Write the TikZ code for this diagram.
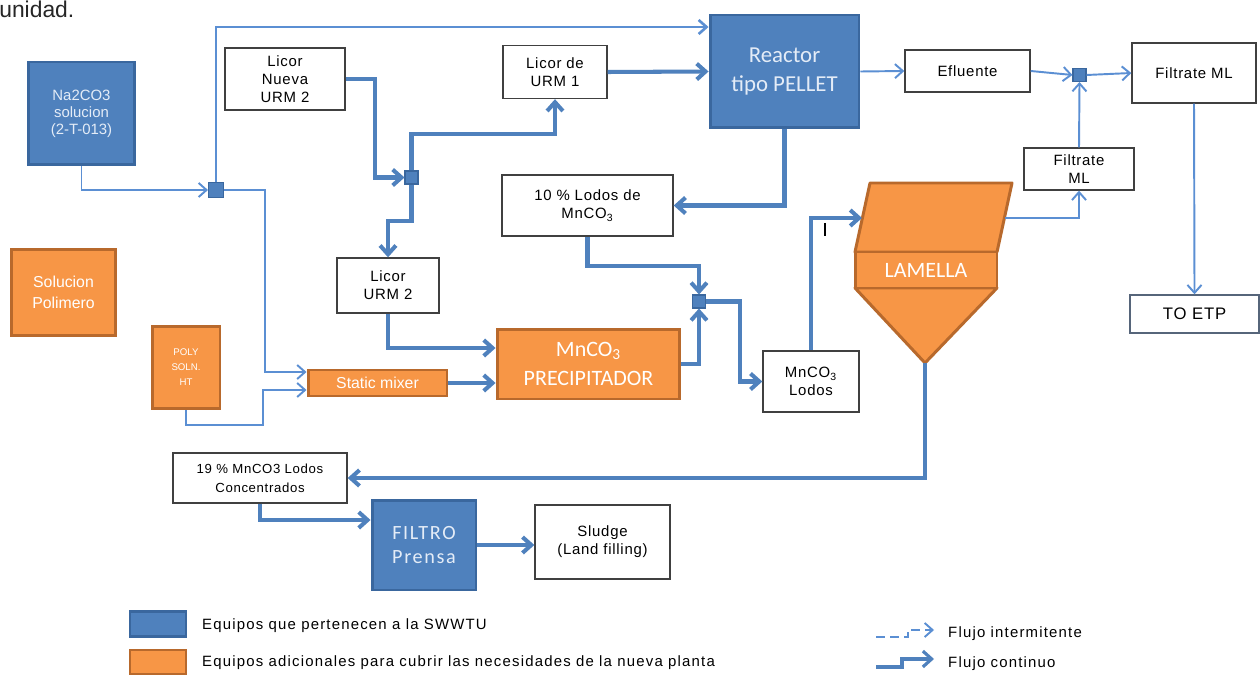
\documentclass[tikz,border=0pt]{standalone}
\usepackage{fontspec}
\setmainfont{Liberation Sans}
\newfontfamily\calib{Carlito}
\newfontfamily\calibsp{Carlito}[LetterSpace=8]
\newfontfamily\arialsp{Liberation Sans}[LetterSpace=5]
\newfontfamily\legfont{Liberation Sans}[LetterSpace=8]
\usetikzlibrary{arrows.meta, calc}

\definecolor{azul}{HTML}{4F81BD}
\definecolor{azulborde}{HTML}{3A679E}
\definecolor{linea}{HTML}{4F81BD}
\definecolor{lineaclara}{HTML}{5B8FD3}
\definecolor{naranja}{HTML}{F79646}
\definecolor{naranjaborde}{HTML}{B8692C}
\definecolor{textoazul}{HTML}{E4ECF7}
\definecolor{bordecaja}{HTML}{404040}
\definecolor{bordeetp}{HTML}{56657A}

\tikzset{
  caja/.style={draw=bordecaja, line width=0.8pt, fill=white, align=center, inner sep=1pt,
    font=\arialsp\fontsize{8.5}{10.2}\selectfont},
  equipo/.style={draw=azulborde, fill=azul, line width=1.7pt, text=textoazul, align=center, inner sep=1pt},
  adicional/.style={draw=naranjaborde, fill=naranja, line width=1.7pt, text=white, align=center, inner sep=1pt},
  union/.style={draw=azulborde, fill=azul, line width=0.6pt, minimum size=0.26cm, inner sep=0pt},
  grueso/.style={draw=linea, line width=2.3pt, -{Straight Barb[length=5pt,width=9pt]}},
  fino/.style={draw=lineaclara, line width=1.1pt, -{Straight Barb[length=4.5pt,width=8pt]}},
}

\begin{document}
\begin{tikzpicture}[x=0.02cm, y=-0.02cm]
      \fill[white] (0,0) rectangle (1260,675);
      \useasboundingbox (0,0) rectangle (1260,675);

      % 1. texto de la pagina
      \node[anchor=base west, inner sep=0pt, font=\fontsize{13}{15}\selectfont, text=black!85] (titulo) at (-1,18) {unidad.};

      % 2. equipos y corrientes
      \node[equipo, minimum width=2.14cm, minimum height=2.06cm, font=\fontsize{8.5}{9.6}\selectfont] (na) at (81.5,113.5) {Na2CO3\\solucion\\(2-T-013)};
      \node[caja, minimum width=2.4cm, minimum height=1.24cm] (lnu) at (285,79) {Licor\\Nueva\\URM 2};
      \node[caja, minimum width=2.08cm, minimum height=1.06cm] (l1) at (555,72) {Licor de\\URM 1};
      \node[equipo, minimum width=2.98cm, minimum height=2.26cm, font=\calib\fontsize{13}{16.5}\selectfont] (reactor) at (784.5,71.5) {Reactor\\tipo PELLET};
      \node[caja, minimum width=2.5cm, minimum height=0.84cm] (eflu) at (967.5,71) {Efluente};
      \node[caja, minimum width=2.48cm, minimum height=1.2cm] (fml) at (1194,73) {Filtrate ML};
      \node[union] (jr) at (1079.5,75) {};
      \node[caja, minimum width=2.2cm, minimum height=0.84cm] (fml2) at (1079,169) {Filtrate\\ML};
      \node[caja, draw=bordeetp, minimum width=2.58cm, minimum height=0.76cm, font=\arialsp\fontsize{9.5}{11}\selectfont] (etp) at (1194.5,314) {TO ETP};
      \node[caja, minimum width=3.42cm, minimum height=1.22cm] (ten) at (587.5,205.5) {10 \% Lodos de\\MnCO\textsubscript{3}};
      \node[union, minimum size=0.3cm] (j1) at (216,190) {};
      \node[union] (j2) at (411.5,177.5) {};
      \node[caja, minimum width=2.04cm, minimum height=1.1cm] (lu2) at (388,285.5) {Licor\\URM 2};
      \node[adicional, minimum width=3.66cm, minimum height=1.4cm, font=\calib\fontsize{12.5}{17}\selectfont] (prec) at (588.5,364) {MnCO\textsubscript{3}\\PRECIPITADOR};
      \node[adicional, minimum width=2.78cm, minimum height=0.52cm, font=\fontsize{9}{10}\selectfont] (mix) at (377.5,383) {Static mixer};
      \node[adicional, minimum width=2.1cm, minimum height=1.74cm, font=\fontsize{9}{12}\selectfont] (sol) at (63.5,292.5) {Solucion\\Polimero};
      \node[adicional, minimum width=1.36cm, minimum height=1.66cm, font=\fontsize{5.5}{8.5}\selectfont] (poly) at (186,367.5) {POLY\\SOLN.\\HT};
      \node[union] (j3) at (699,301.5) {};
      \node[caja, minimum width=1.92cm, minimum height=1.22cm] (lodos) at (811,381.5) {MnCO\textsubscript{3}\\Lodos};
      \node[caja, minimum width=3.48cm, minimum height=1.0cm, font=\arialsp\fontsize{7.5}{11}\selectfont] (c19) at (260,478) {19 \% MnCO3 Lodos\\Concentrados};
      \node[equipo, minimum width=2.08cm, minimum height=1.8cm, font=\calibsp\fontsize{11.5}{13.5}\selectfont] (filtro) at (424,545) {FILTRO\\Prensa};
      \node[caja, minimum width=2.7cm, minimum height=1.48cm] (sludge) at (602.5,542) {Sludge\\(Land filling)};

      % 3. LAMELLA: tolva + banda + cono
      \filldraw[draw=naranjaborde, fill=naranja, line width=1.7pt, line join=round]
        (870,183) -- (1012,183) -- (997,252) -- (855,252) -- cycle;
      \filldraw[draw=naranjaborde, fill=naranja, line width=1.7pt, line join=round]
        (855,288) -- (997,288) -- (925,363) -- cycle;
      \node[adicional, minimum width=2.84cm, minimum height=0.72cm, font=\calib\fontsize{12.5}{14}\selectfont] (lam) at (926,270) {LAMELLA};
      \coordinate (lamL) at (862,218);
      \coordinate (lamR) at (1005,218);
      \coordinate (lamB) at (925,363);

      % 4. lineas finas
      \draw[fino] (na.south) |- (j1.west);
      \draw[fino, line width=1.5pt] (j1.north) |- ([yshift=0.89cm]reactor.west);
      \draw[fino] (j1.east) -- (265,190) |- ([yshift=0.22cm]mix.west);
      \draw[fino] (poly.south) |- (263,425) |- ([yshift=-0.14cm]mix.west);
      \draw[fino] (reactor.east) -- (eflu.west);
      \draw[fino] (eflu.east) -- (jr.west);
      \draw[fino] (jr.east) -- (fml.west);
      \draw[fino] (fml2.north) -- (jr.south);
      \draw[fino] (lamR) -| (fml2.south);
      \draw[fino] (fml.south) -- (etp.north);

      % 5. lineas gruesas
      \draw[grueso] (lnu.east) -- (375,79) |- (j2.west);
      \draw[grueso] (j2.north) -- ++(0,-36) -| (l1.south);
      \draw[grueso] (l1.east) -- (reactor.west);
      \draw[grueso] (j2.south) -- ++(0,36) -| (lu2.north);
      \draw[grueso] (reactor.south) |- (ten.east);
      \draw[grueso] (ten.south) -- ++(0,29) -| (j3.north);
      \draw[grueso] (prec.east) -| (j3.south);
      \draw[grueso] (j3.east) -- ++(34,0) |- (lodos.west);
      \draw[grueso] (lodos.north) |- (lamL);
      \draw[grueso] (lu2.south) |- ([yshift=0.32cm]prec.west);
      \draw[grueso] (mix.east) -- (mix.east -| prec.west);
      \draw[grueso] (lamB) |- (c19.east);
      \draw[grueso] (c19.south) |- ([yshift=0.5cm]filtro.west);
      \draw[grueso] (filtro.east) -- (filtro.east -| sludge.west);
      \draw[black, line width=0.6pt] (825,223) -- (825,236);

      % 6. leyenda
      \node[equipo, minimum width=1.12cm, minimum height=0.5cm, line width=1.5pt] (legazul) at (158,624) {};
      \node[adicional, minimum width=1.12cm, minimum height=0.48cm, line width=1.5pt] (legnar) at (158,662) {};
      \node[anchor=west, font=\legfont\fontsize{8.5}{10}\selectfont] (txtazul) at (196,626) {Equipos que pertenecen a la SWWTU};
      \node[anchor=west, font=\legfont\fontsize{8.5}{10}\selectfont] (txtnar) at (196,663) {Equipos adicionales para cubrir las necesidades de la nueva planta};
      \coordinate (intA) at (876,637);
      \coordinate (intB) at (934,630);
      \coordinate (conA) at (876,667);
      \coordinate (conB) at (934,659);
      \draw[fino, dash pattern=on 5pt off 3pt] (intA) -- ++(32,0) |- (intB);
      \draw[grueso, line width=1.8pt] (conA) -- ++(26,0) |- (conB);
      \node[anchor=west, font=\legfont\fontsize{8.5}{10}\selectfont] (txtint) at (942,634) {Flujo intermitente};
      \node[anchor=west, font=\legfont\fontsize{8.5}{10}\selectfont] (txtcon) at (942,664) {Flujo continuo};
\end{tikzpicture}
\end{document}
